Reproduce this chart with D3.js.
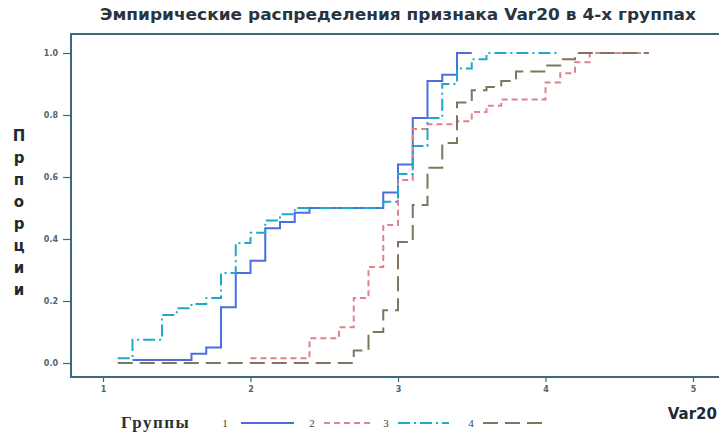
<!DOCTYPE html>
<html>
<head>
<meta charset="utf-8">
<script src="https://cdn.jsdelivr.net/npm/d3@7/dist/d3.min.js"></script>
<style>
  html, body { margin: 0; padding: 0; background: #fff; }
  svg { display: block; }
</style>
</head>
<body>
<svg id="chart" width="719" height="434"></svg>
<script>
// Empirical CDFs of Var20 for four groups (step functions).
const titleText = "Эмпирические распределения признака Var20 в 4-х группах";
const yLabelText = "Прпорции";
const xLabelText = "Var20";
const legendTitle = "Группы";
const groupNames = ["1", "2", "3", "4"];
const xTickValues = [1, 2, 3, 4, 5];
const yTickValues = [0.0, 0.2, 0.4, 0.6, 0.8, 1.0];

// Step positions (x) and cumulative proportions (F); last x is where the line ends.
const g1X = [1.2, 1.6, 1.7, 1.8, 1.9, 2.0, 2.1, 2.2, 2.3, 2.4, 2.9, 3.0, 3.1, 3.2, 3.3, 3.4, 3.5];
const g1F = [0.01, 0.03, 0.05, 0.18, 0.29, 0.33, 0.435, 0.455, 0.485, 0.5, 0.55, 0.64, 0.79, 0.91, 0.93, 1.0];

const g2X = [2.0, 2.4, 2.6, 2.7, 2.8, 2.9, 3.0, 3.1, 3.2, 3.4, 3.5, 3.6, 3.7, 4.0, 4.1, 4.2, 4.3, 4.7];
const g2F = [0.015, 0.08, 0.115, 0.21, 0.31, 0.445, 0.59, 0.755, 0.77, 0.78, 0.81, 0.83, 0.85, 0.905, 0.935, 0.97, 1.0];

const g3X = [1.1, 1.2, 1.4, 1.5, 1.6, 1.7, 1.8, 1.9, 2.0, 2.1, 2.2, 2.3, 2.9, 3.0, 3.1, 3.2, 3.3, 3.4, 3.5, 3.6, 4.1];
const g3F = [0.015, 0.075, 0.155, 0.177, 0.19, 0.21, 0.29, 0.387, 0.42, 0.46, 0.48, 0.5, 0.52, 0.61, 0.70, 0.79, 0.90, 0.95, 0.98, 1.0];

const g4X = [1.1, 2.7, 2.8, 2.9, 3.0, 3.1, 3.2, 3.3, 3.4, 3.5, 3.6, 3.7, 3.8, 4.0, 4.1, 4.2, 4.7];
const g4F = [0.0, 0.04, 0.10, 0.17, 0.39, 0.51, 0.63, 0.71, 0.84, 0.88, 0.89, 0.91, 0.94, 0.96, 0.98, 1.0];

const seriesX = [g1X, g2X, g3X, g4X];
const seriesF = [g1F, g2F, g3F, g4F];

// Line styles per group
const lineColors = ["#4a6ee0", "#e3808c", "#1ea9c9", "#7e7660"];
const lineDash = ["", "6,4", "12,4,2,4", "15,7"];

const svg = d3.select("#chart");
svg.append("rect").attr("width", 719).attr("height", 434).attr("fill", "#fff");

const frame = { left: 71, top: 34, right: 719, bottom: 377 };
const x = d3.scaleLinear().domain([1, 5]).range([103, 693]);
const y = d3.scaleLinear().domain([0, 1]).range([363, 53]);

const axisColor = "#3b6a80";
const tickTextColor = "#56626c";

// Title
svg.append("text")
  .attr("x", 100).attr("y", 20)
  .attr("font-family", "DejaVu Sans, Verdana, sans-serif")
  .attr("font-size", 15).attr("font-weight", "bold")
  .attr("fill", "#28343f")
  .attr("textLength", 596).attr("lengthAdjust", "spacingAndGlyphs")
  .text(titleText);

// Frame
svg.append("path")
  .attr("d", `M${frame.right},${frame.top}H${frame.left}V${frame.bottom}H${frame.right}`)
  .attr("fill", "none").attr("stroke", axisColor).attr("stroke-width", 2);

// X axis
const xAxis = d3.axisBottom(x).tickValues(xTickValues).tickSize(5).tickPadding(4).tickFormat(d3.format("d"));
const gx = svg.append("g").attr("transform", `translate(0,${frame.bottom})`).call(xAxis);
gx.select(".domain").remove();
gx.selectAll(".tick line").attr("stroke", axisColor).attr("stroke-width", 1.2);
gx.selectAll(".tick text").attr("fill", tickTextColor).attr("font-size", 8)
  .attr("font-family", "DejaVu Sans, sans-serif").attr("font-weight", "bold");

// Y axis
const yAxis = d3.axisLeft(y).tickValues(yTickValues).tickSize(8).tickPadding(5).tickFormat(d3.format(".1f"));
const gy = svg.append("g").attr("transform", `translate(${frame.left},0)`).call(yAxis);
gy.select(".domain").remove();
gy.selectAll(".tick line").attr("stroke", axisColor).attr("stroke-width", 1.2);
gy.selectAll(".tick text").attr("fill", tickTextColor).attr("font-size", 8)
  .attr("font-family", "DejaVu Sans, sans-serif").attr("font-weight", "bold");

// Y label, letters stacked vertically
const yl = svg.append("text")
  .attr("font-family", "DejaVu Sans, Verdana, sans-serif")
  .attr("font-size", 15).attr("font-weight", "bold").attr("fill", "#1e2a33")
  .attr("text-anchor", "middle");
Array.from(yLabelText).forEach((ch, i) => {
  yl.append("tspan").attr("x", 19).attr("y", 141 + i * 22).text(ch);
});

// X label
svg.append("text")
  .attr("x", 717).attr("y", 419).attr("text-anchor", "end")
  .attr("font-family", "DejaVu Sans, Verdana, sans-serif")
  .attr("font-size", 15).attr("font-weight", "bold").attr("fill", "#1e2a33")
  .text(xLabelText);

// Step lines
const line = d3.line().x(d => x(d[0])).y(d => y(d[1])).curve(d3.curveStepAfter);
const plot = svg.append("g");
seriesX.forEach((xs, gi) => {
  const fs = seriesF[gi];
  const pts = fs.map((f, i) => [xs[i], f]);
  pts.push([xs[xs.length - 1], fs[fs.length - 1]]);
  plot.append("path")
    .datum(pts)
    .attr("d", line)
    .attr("fill", "none")
    .attr("stroke", lineColors[gi])
    .attr("stroke-width", 2)
    .attr("stroke-dasharray", lineDash[gi] || null);
});

// Legend
const legY = 423;
svg.append("text")
  .attr("x", 121).attr("y", legY + 5)
  .attr("font-family", "Liberation Serif, Times New Roman, serif")
  .attr("font-size", 17).attr("font-weight", "bold").attr("fill", "#2a3138")
  .attr("letter-spacing", 1.5)
  .text(legendTitle);
const legendLabelX = [225, 312, 386, 471];
const legendLineX = [[241, 294], [324, 371], [398, 449], [483, 542]];
groupNames.forEach((name, gi) => {
  svg.append("text")
    .attr("x", legendLabelX[gi]).attr("y", legY + 4)
    .attr("text-anchor", "middle")
    .attr("font-family", "Liberation Serif, serif").attr("font-size", 11)
    .attr("fill", "#3a4046")
    .text(name);
  svg.append("line")
    .attr("x1", legendLineX[gi][0]).attr("x2", legendLineX[gi][1])
    .attr("y1", legY).attr("y2", legY)
    .attr("stroke", lineColors[gi]).attr("stroke-width", 2)
    .attr("stroke-dasharray", lineDash[gi] || null);
});
</script>
</body>
</html>
